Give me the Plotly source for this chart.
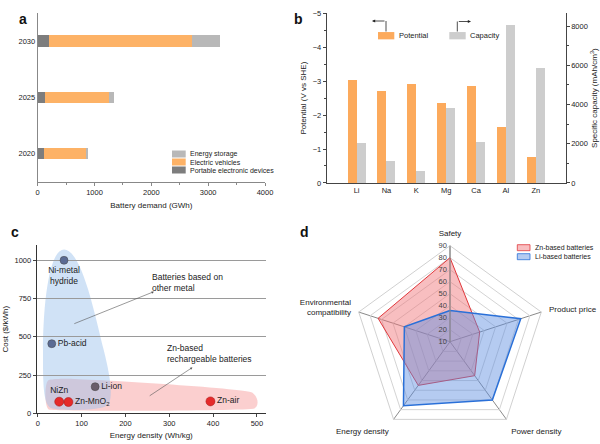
import plotly.graph_objects as go

# ---- panel a: battery demand ----
years = ["2020", "2025", "2030"]
portable = [110, 130, 200]
electric_vehicles = [750, 1120, 2510]
energy_storage = [20, 100, 490]

# ---- panel b: metal anodes ----
metals = ["Li", "Na", "K", "Mg", "Ca", "Al", "Zn"]
potential = [-3.04, -2.71, -2.93, -2.37, -2.87, -1.66, -0.76]
capacity = [2062, 1128, 591, 3833, 2073, 8046, 5851]

# ---- panel c: cost vs energy density ----
other_names = ["Ni-metal<br>hydride", "Pb-acid", "Li-ion"]
other_density = [60, 32, 131]
other_cost = [1000, 455, 174]
zn_names = ["NiZn", "Zn-MnO<sub>2</sub>", "Zn-air"]
zn_density = [49, 70, 394]
zn_cost = [76, 74, 78]

# ---- panel d: radar ----
radar_axes = ["Safety", "Product price", "Power density", "Energy density",
              "Environmental<br>compatibility"]
zn_scores = [80, 36, 45, 55, 73]
li_scores = [36, 72, 70, 76, 50]

FONT = "Liberation Sans, Arial, sans-serif"
ORANGE = "#fdb266"
LGRAY = "#b8b8b8"
DGRAY = "#7d7d7d"
B_ORANGE = "#fcaa5c"
B_GRAY = "#cdcdcd"
ZN_FILL, ZN_LINE = "rgba(240,110,115,0.45)", "#e0383c"
LI_FILL, LI_LINE = "rgba(90,140,225,0.45)", "#2a70d8"


def px(x):
    return x / 600


def py(y):
    return 1 - y / 444


fig = go.Figure()

# panel a
for vals, name, col in [(portable, "Portable electronic devices", DGRAY),
                        (electric_vehicles, "Electric vehicles", ORANGE),
                        (energy_storage, "Energy storage", LGRAY)]:
    fig.add_trace(go.Bar(y=years, x=vals, orientation="h", name=name,
                         marker=dict(color=col, line_width=0), width=0.2,
                         showlegend=False, xaxis="x", yaxis="y"))

# panel b
fig.add_trace(go.Bar(x=metals, y=potential, name="Potential", width=0.3, offset=-0.3,
                     marker=dict(color=B_ORANGE, line_width=0), showlegend=False,
                     xaxis="x2", yaxis="y2"))
fig.add_trace(go.Bar(x=metals, y=capacity, name="Capacity", width=0.3, offset=0,
                     marker=dict(color=B_GRAY, line_width=0), showlegend=False,
                     xaxis="x2", yaxis="y3"))

# panel c
fig.add_trace(go.Scatter(x=other_density, y=other_cost, mode="markers+text", text=other_names,
                         textposition=["bottom center", "middle right", "middle right"],
                         textfont=dict(size=8.5, color="#222"),
                         marker=dict(size=8, color=["#5a6b94", "#5a6b94", "#6a5d6a"],
                                     line=dict(width=0.5, color="#444")),
                         showlegend=False, xaxis="x3", yaxis="y4", cliponaxis=False))
fig.add_trace(go.Scatter(x=zn_density, y=zn_cost, mode="markers+text", text=zn_names,
                         textposition=["top center", "middle right", "middle right"],
                         textfont=dict(size=8.5, color="#222"),
                         marker=dict(size=9, color="#e52a2a", line=dict(width=0.5, color="#a01010")),
                         showlegend=False, xaxis="x3", yaxis="y4", cliponaxis=False))

# panel d
fig.add_trace(go.Scatterpolar(r=zn_scores + zn_scores[:1], theta=radar_axes + radar_axes[:1],
                              name="Zn-based batteries", fill="toself", fillcolor=ZN_FILL,
                              line=dict(color=ZN_LINE, width=1), mode="lines", showlegend=False))
fig.add_trace(go.Scatterpolar(r=li_scores + li_scores[:1], theta=radar_axes + radar_axes[:1],
                              name="Li-based batteries", fill="toself", fillcolor=LI_FILL,
                              line=dict(color=LI_LINE, width=1.5), mode="lines", showlegend=False))

tick_font = dict(size=7.5, color="#222")
title_font = dict(size=8, color="#222")

# blobs for panel c (decorative regions)
blue_blob = ("M 60,1070 C 25,1070 12,700 12,400 C 12,200 12,60 30,35 C 50,15 150,15 162,60 "
             "C 172,120 165,250 150,420 C 130,650 100,1070 60,1070 Z")
pink_blob = ("M 25,218 C 15,205 15,40 25,25 C 40,12 450,15 492,30 C 505,40 505,100 490,135 "
             "C 470,165 100,228 60,226 C 40,224 30,222 25,218 Z")

shapes = [
    dict(type="path", path=pink_blob, xref="x3", yref="y4", fillcolor="rgba(248,160,160,0.5)",
         line_width=0, layer="below"),
    dict(type="path", path=blue_blob, xref="x3", yref="y4", fillcolor="rgba(150,190,235,0.45)",
         line_width=0, layer="below"),
]
annotations = []


def legend_item(x0, x1, yc, h, fill, text, line=None, size=7):
    shapes.append(dict(type="rect", xref="paper", yref="paper", x0=px(x0), x1=px(x1),
                       y0=py(yc + h / 2), y1=py(yc - h / 2), fillcolor=fill,
                       line=dict(width=0.8 if line else 0, color=line or fill)))
    annotations.append(dict(text=text, x=px(x1 + 2.5), y=py(yc), xref="paper", yref="paper",
                            xanchor="left", yanchor="middle", showarrow=False,
                            font=dict(size=size, color="#222")))


# legend a
legend_item(172, 185.7, 154, 7, LGRAY, "Energy storage")
legend_item(172, 185.7, 162, 7, ORANGE, "Electric vehicles")
legend_item(172, 185.7, 170, 7, DGRAY, "Portable electronic devices")
# legend b with direction arrows
legend_item(378, 394.3, 35.7, 7.3, B_ORANGE, "Potential", size=7.5)
legend_item(449.3, 465.7, 35.7, 7.3, B_GRAY, "Capacity", size=7.5)
shapes.append(dict(type="line", xref="paper", yref="paper", x0=px(386), x1=px(386),
                   y0=py(31.5), y1=py(21), line=dict(color="#222", width=0.8)))
shapes.append(dict(type="line", xref="paper", yref="paper", x0=px(457.3), x1=px(457.3),
                   y0=py(31.5), y1=py(21.5), line=dict(color="#222", width=0.8)))
annotations.append(dict(text="", x=px(372), y=py(21), xref="paper", yref="paper", ax=14, ay=0,
                        showarrow=True, arrowhead=2, arrowsize=0.8, arrowwidth=0.8,
                        arrowcolor="#222"))
annotations.append(dict(text="", x=px(471), y=py(21.5), xref="paper", yref="paper", ax=-13.7,
                        ay=0, showarrow=True, arrowhead=2, arrowsize=0.8, arrowwidth=0.8,
                        arrowcolor="#222"))
# legend d
legend_item(517.3, 530, 247.7, 6, ZN_FILL, "Zn-based batteries", line=ZN_LINE)
legend_item(517.3, 530, 256.7, 6, LI_FILL, "Li-based batteries", line=LI_LINE)

# panel letters
for letter, x, y in [("a", 17, 9), ("b", 298, 9), ("c", 9, 232), ("d", 304, 232)]:
    annotations.append(dict(text="<b>%s</b>" % letter, x=px(x), y=py(y), xref="paper",
                            yref="paper", showarrow=False, font=dict(size=14, color="#111")))

# panel c callouts
annotations += [
    dict(text="Batteries based on<br>other metal", x=257, y=858, xref="x3", yref="y4",
         xanchor="left", align="left", showarrow=False, font=dict(size=8.5)),
    dict(text="", x=265, y=795, ax=80, ay=582, xref="x3", yref="y4", axref="x3", ayref="y4",
         showarrow=True, arrowhead=2, arrowsize=0.8, arrowwidth=0.6, arrowcolor="#555"),
    dict(text="Zn-based<br>rechargeable batteries", x=290, y=388, xref="x3", yref="y4",
         xanchor="left", align="left", showarrow=False, font=dict(size=8.5)),
    dict(text="", x=353, y=300, ax=252, ay=108, xref="x3", yref="y4", axref="x3", ayref="y4",
         showarrow=True, arrowhead=2, arrowsize=0.8, arrowwidth=0.6, arrowcolor="#555"),
]

fig.update_layout(
    width=600, height=444,
    margin=dict(l=0, r=0, t=0, b=0),
    paper_bgcolor="white", plot_bgcolor="white",
    font=dict(family=FONT, size=8, color="#222"),
    barmode="stack",
    showlegend=False,
    xaxis=dict(domain=[0.0628, 0.4417], range=[0, 4000], dtick=1000, showgrid=False,
               showline=True, linecolor="#888", linewidth=1, ticks="outside", ticklen=3,
               tickcolor="#888", minor=dict(dtick=500, ticks="outside", ticklen=2, tickcolor="#888"),
               tickfont=tick_font, zeroline=False, automargin=False,
               title=dict(text="Battery demand (GWh)", font=title_font, standoff=6)),
    yaxis=dict(domain=[0.590, 0.971], range=[-0.5, 2.5], showgrid=False, showline=True,
               linecolor="#888", linewidth=1, ticks="", tickfont=tick_font, anchor="x",
               automargin=False),
    xaxis2=dict(domain=[0.5445, 0.9428], range=[-1, 7], anchor="y2", showgrid=False,
                showline=True, linecolor="#444", linewidth=1, ticks="", tickfont=tick_font,
                zeroline=False, automargin=False),
    yaxis2=dict(domain=[0.588, 0.970], range=[0, -5], anchor="x2", dtick=1, showgrid=False,
                showline=True, linecolor="#444", linewidth=1, ticks="outside", ticklen=3,
                minor=dict(dtick=0.5, ticks="outside", ticklen=2), tickfont=tick_font,
                zeroline=False, automargin=False,
                title=dict(text="Potential (V vs SHE)", font=title_font, standoff=4)),
    yaxis3=dict(overlaying="y2", side="right", anchor="x2", range=[0, 8650], dtick=2000,
                showgrid=False, showline=True, linecolor="#444", linewidth=1, ticks="outside",
                ticklen=3, minor=dict(dtick=1000, ticks="outside", ticklen=2), tickfont=tick_font,
                zeroline=False, automargin=False,
                title=dict(text="Specific capacity (mAh/cm<sup>3</sup>)", font=title_font, standoff=4)),
    xaxis3=dict(domain=[0.0612, 0.4428], range=[-2.3, 520], anchor="y4", dtick=100,
                showgrid=False, showline=True, linecolor="#333", linewidth=1, ticks="outside",
                ticklen=3, tickfont=tick_font, zeroline=False, automargin=False,
                title=dict(text="Energy density (Wh/kg)", font=title_font, standoff=5)),
    yaxis4=dict(domain=[0.0691, 0.4482], range=[0, 1100], anchor="x3", tickvals=[0, 250, 500, 750, 1000],
                showgrid=True, gridcolor="#9a9a9a", gridwidth=1, showline=True, linecolor="#333",
                linewidth=1, ticks="outside", ticklen=3, tickfont=tick_font, zeroline=False,
                automargin=False, title=dict(text="Cost ($/kWh)", font=title_font, standoff=4)),
    polar=dict(domain=dict(x=[0.59, 0.91], y=[0.0142, 0.4466]), bgcolor="white",
               gridshape="linear",
               radialaxis=dict(range=[10, 90], dtick=10, angle=90, tickangle=90, showline=True,
                               side="counterclockwise",
                               linecolor="#888", gridcolor="#d4d4d4",
                               tickfont=dict(size=7.5, color="#444"), ticks=""),
               angularaxis=dict(rotation=90, direction="clockwise", gridcolor="#8a8a8a",
                                linecolor="#d0d0d0", showline=True, ticks="outside", ticklen=6,
                                tickcolor="rgba(0,0,0,0)",
                                tickfont=dict(size=8, color="#222"))),
    shapes=shapes,
    annotations=annotations,
)

# the page body has a default 8px margin; remove it so the figure fills the window
fig.write_html("out.html", config={"displayModeBar": False},
               post_script="document.body.style.margin='0';")
